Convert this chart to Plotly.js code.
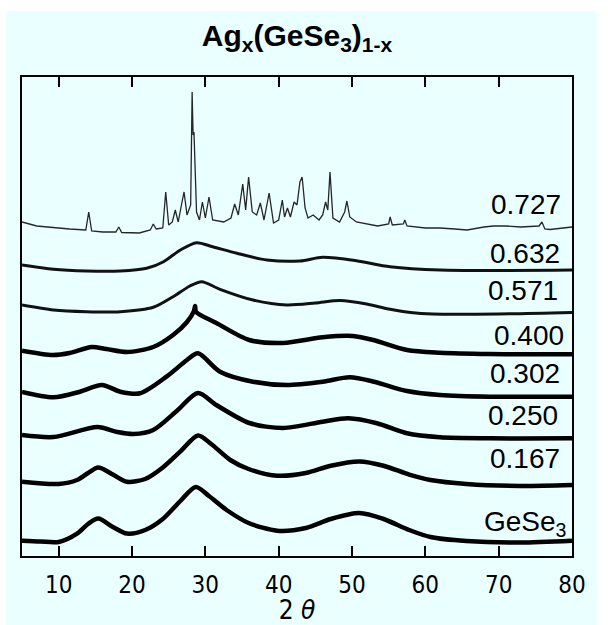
<!DOCTYPE html>
<html><head><meta charset="utf-8">
<script src="https://cdn.plot.ly/plotly-3.0.1.min.js"></script>
<style>
html,body{margin:0;padding:0;background:#ffffff;width:608px;height:625px;overflow:hidden}
#chart{position:absolute;left:6px;top:11px;width:591px;height:614px}
</style>
</head><body><div id="chart"></div>
<script>
// composition labels (top to bottom)
const sampleLabels = ['0.727', '0.632', '0.571', '0.400', '0.302', '0.250', '0.167', 'GeSe<sub>3</sub>'];

// stacked intensities (arbitrary units, offset for display) vs 2θ (deg)
const x727 = [5, 7, 11.5, 13.7, 14.1, 14.5, 16, 17.8, 18.2, 18.6, 21, 22.5, 22.9, 23.3, 24.2, 24.6, 25.0, 25.5, 25.9, 26.3, 26.9, 27.1, 27.5, 28.0, 28.2, 28.33, 28.45, 28.8, 29.2, 29.6, 30.0, 30.5, 31.0, 32.5, 33.5, 34.0, 34.5, 35.1, 35.5, 35.9, 36.4, 37.0, 37.5, 38.0, 38.7, 39.3, 40.0, 40.5, 40.8, 41.2, 41.6, 42.1, 42.5, 42.9, 43.2, 43.6, 44.0, 44.7, 45.5, 46.0, 46.4, 46.7, 47.0, 47.4, 48.3, 49.0, 49.3, 49.7, 50.6, 52, 53.5, 55.0, 55.2, 55.5, 57.0, 57.2, 57.5, 60, 62, 64, 65.7, 68, 69.3, 71, 73, 75.5, 75.9, 76.3, 77, 80];
const y727 = [334, 330, 327, 326, 344, 325, 324, 324, 329, 323.5, 323, 326, 332, 327, 328, 364, 331, 334, 346, 334, 357, 364, 341, 351, 464, 421, 424, 344, 336, 354, 338, 359, 336, 334, 338, 352, 341, 372, 346, 379, 344, 341, 353, 336, 363, 333, 336, 356, 339, 348, 339, 354, 351, 374, 379, 348, 338, 341, 336, 341, 354, 346, 384, 338, 334, 344, 355, 339, 334, 332, 330, 332, 339, 331, 332, 336, 330, 328, 328, 327, 326, 329, 330, 330, 329, 330, 334, 327, 326.5, 329];

const x632 = [5, 9.3, 13.8, 18.4, 22, 24.3, 26.6, 28.8, 31, 34.3, 38.4, 42.9, 46, 50.6, 55.2, 62, 80];
const y632 = [291, 286.7, 285, 285, 287.7, 294.3, 306, 313.3, 309.3, 302.7, 296, 295, 298.7, 295.3, 289.3, 286, 286];

const x571 = [5, 9.3, 13.8, 18.4, 22.9, 25.6, 27.9, 29.5, 32, 36.5, 41.1, 45, 48.4, 52, 55, 58, 61, 70, 80];
const y571 = [251, 246, 244.3, 244.3, 248.7, 259.3, 270, 274.3, 266.7, 256, 251, 253, 255.5, 252, 247, 243.5, 242, 242, 243.5];

const x400 = [5, 9.2, 11.5, 14.5, 16.5, 19.3, 22.9, 25.6, 27.5, 28.45, 28.6, 28.75, 31.5, 36, 40.6, 46, 50.1, 52.9, 57.5, 62, 68.8, 80];
const y400 = [205.3, 201, 203, 209, 207, 204, 209, 221, 234, 245, 250, 244, 233, 216, 213, 218.7, 220, 216, 206, 203.3, 202, 201.7];

const x302 = [5, 9.3, 12.9, 15.9, 18.4, 21.1, 24.7, 27.5, 29, 32, 36.5, 41.1, 46, 49.7, 53, 57.5, 62, 68.8, 80];
const y302 = [164, 158.7, 164.3, 171, 164.3, 162.7, 179.3, 196, 202.7, 184.3, 174.3, 171, 174.3, 178.7, 174.3, 165, 161, 159.3, 159.3];

const x250 = [5, 9.3, 15.3, 18, 20.2, 22.9, 26.1, 29, 31.5, 36, 40.6, 46, 49.5, 53.4, 57.5, 62, 68.8, 80];
const y250 = [121, 119, 129, 124, 122, 126, 145, 163, 151, 133, 128, 134.3, 137.7, 132.7, 122.7, 118.7, 117.7, 117.7];

const x167 = [5, 10, 12.5, 14, 15.4, 17.4, 19.3, 21.8, 24.2, 26.6, 29, 30.8, 33.4, 35.9, 39.8, 43.7, 47.1, 51, 54.3, 57.8, 60.7, 65.6, 72.9, 80];
const y167 = [74.2, 72, 76, 83, 88.5, 81.4, 74.2, 77, 88.5, 104.6, 120.6, 112, 96, 87, 80.3, 83, 90.3, 94.6, 90.3, 81.4, 76, 72, 70, 71];

const xGeSe3 = [5, 7.5, 10, 12.5, 14, 15.4, 17.4, 19.3, 21.8, 24.2, 26.6, 28.7, 30.5, 32.9, 35.9, 39.8, 43.7, 47.1, 51, 54.3, 57.8, 60.7, 65.6, 72.9, 80];
const yGeSe3 = [15.3, 14.5, 14, 22.4, 32, 37.4, 29, 22.4, 26, 37, 55, 69, 60, 46, 33, 25.3, 28, 37, 43, 37, 26, 19, 15, 13.5, 15.3];

const tickValues = [10, 20, 30, 40, 50, 60, 70, 80];
const tickLabels = ['10', '20', '30', '40', '50', '60', '70', '80'];

const series = [
  [x727, y727], [x632, y632], [x571, y571], [x400, y400],
  [x302, y302], [x250, y250], [x167, y167], [xGeSe3, yGeSe3]
];
const widths = [1.3, 3, 3, 4.5, 4.5, 4.5, 4.5, 4.5];
const colors = ['#262626', '#111', '#111', '#000', '#000', '#000', '#000', '#000'];

const traces = series.map((s, i) => ({
  x: s[0], y: s[1], type: 'scatter', mode: 'lines',
  name: sampleLabels[i],
  line: {color: colors[i], width: widths[i], shape: i === 0 ? 'linear' : 'spline', smoothing: 0.8},
  hoverinfo: 'x+y+name'
}));

// label placement (layout only)
const labelX = [78.8, 78.7, 78.4, 79.2, 78.6, 78.4, 78.6, 79.6];
const labelY = [352, 303, 266, 221, 183, 141, 98, 33];

const annotations = sampleLabels.map((t, i) => ({
  x: labelX[i], y: labelY[i], xref: 'x', yref: 'y',
  text: t, showarrow: false, xanchor: 'right', yanchor: 'middle',
  font: {family: 'Liberation Sans, Arial, sans-serif', size: 28, color: '#000'}
}));

const layout = {
  width: 591, height: 614,
  margin: {l: 16, r: 25, t: 66, b: 69},
  paper_bgcolor: '#EAFFFF', plot_bgcolor: '#EAFFFF',
  showlegend: false,
  title: {
    text: 'Ag<sub>x</sub>(GeSe<sub>3</sub>)<sub>1-x</sub>',
    font: {family: 'Liberation Sans, Arial, sans-serif', size: 30, color: '#000', weight: 'bold'},
    x: 0.5, xref: 'paper', xanchor: 'center',
    y: 0.96, yref: 'container', yanchor: 'middle'
  },
  xaxis: {
    range: [5, 80], tickvals: tickValues, ticktext: tickLabels,
    ticks: 'inside', ticklen: 10, tickwidth: 2, tickcolor: '#000',
    showline: true, linewidth: 2, linecolor: '#000', mirror: 'ticks',
    showgrid: false, zeroline: false, ticklabelstandoff: 6,
    tickfont: {family: 'Liberation Sans Narrow, DejaVu Sans Condensed, sans-serif', size: 24, color: '#000'},
    title: {text: '2 <i>θ</i>', font: {family: 'Liberation Sans Narrow, DejaVu Sans Condensed, sans-serif', size: 26, color: '#000'}, standoff: 1}
  },
  yaxis: {
    range: [0, 479], showline: true, linewidth: 2, linecolor: '#000', mirror: true,
    showticklabels: false, ticks: '', showgrid: false, zeroline: false
  },
  annotations: annotations
};

Plotly.newPlot('chart', traces, layout, {displayModeBar: false, staticPlot: true});
</script>
</body></html>
